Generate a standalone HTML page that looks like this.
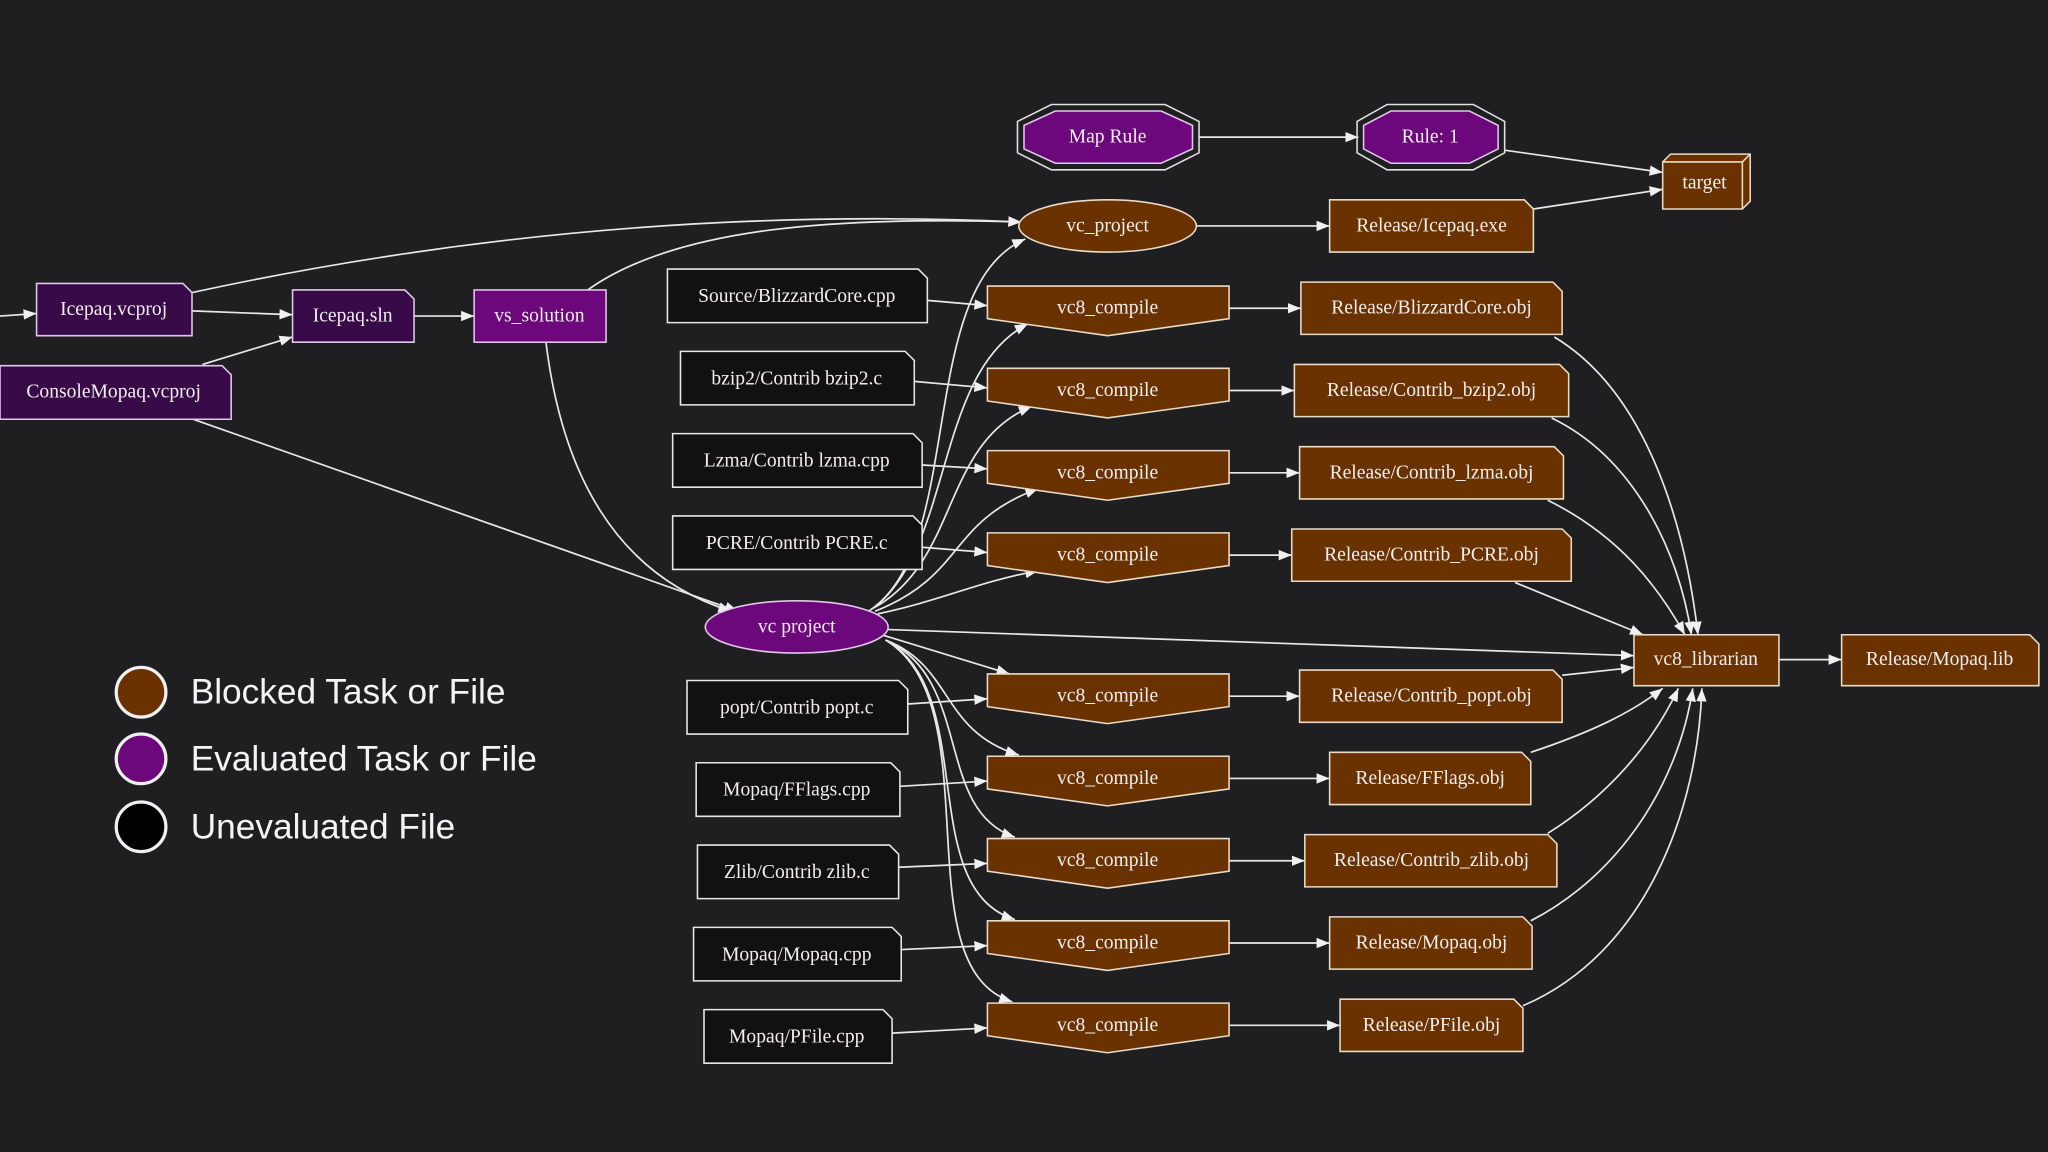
<!DOCTYPE html>
<html><head><meta charset="utf-8"><style>
html,body{margin:0;padding:0;background:#1f1f21;width:2048px;height:1152px;overflow:hidden}
svg{display:block}
.t{font-family:"Liberation Serif",serif;font-size:15px;fill:#f2eef0;text-anchor:middle;dominant-baseline:central}
.e{fill:none;stroke:#e8e8e8;stroke-width:1.3}
.b{fill:#6a3200;stroke:#e8dcc8;stroke-width:1.2}
.p{fill:#6c087c;stroke:#e0c8e8;stroke-width:1.2}
.dp{fill:#380a48;stroke:#e0c8e8;stroke-width:1.2}
.k{fill:#111113;stroke:#e8e8e8;stroke-width:1.2}
.lg{font-family:"Liberation Sans",sans-serif;font-size:27px;fill:#f4f4f4;dominant-baseline:central}
</style></head><body>
<svg width="2048" height="1152" viewBox="0 0 1568 882" xmlns="http://www.w3.org/2000/svg">
<defs><marker id="a" markerWidth="10" markerHeight="8" refX="10" refY="4" orient="auto" markerUnits="userSpaceOnUse"><path d="M0,0 L10,4 L0,8 Z" fill="#f0f0f0"/></marker></defs>
<rect width="1568" height="882" fill="#1f1f21"/>

<!-- edges -->
<g class="e" marker-end="url(#a)">
<path d="M0,242 L28,240"/>
<path d="M147,238 L224,241"/>
<path d="M155,279 L224,258"/>
<path d="M317,242 L363,242"/>
<path d="M147,224 C350,180 560,160 782,170"/>
<path d="M450,222 C520,172 650,166 782,170"/>
<path d="M418,262 C430,360 470,440 560,468"/>
<path d="M148,321 L565,468"/>
<path d="M918,105 L1040,105"/>
<path d="M1152,115 L1273,132"/>
<path d="M916,173 L1018,173"/>
<path d="M1174,160 L1273,145"/>
<path d="M665,468 C740,420 700,220 785,183"/>
<!-- sources to compiles -->
<path d="M710,230 L756,234"/>
<path d="M700,292 L756,297"/>
<path d="M706,356 L756,359"/>
<path d="M706,419 L756,423"/>
<path d="M695,539 L756,535"/>
<path d="M689,602 L756,598"/>
<path d="M688,664 L756,661"/>
<path d="M690,727 L756,724"/>
<path d="M683,791 L756,787"/>
<!-- vc_project to compiles -->
<path d="M668,466 C730,420 715,285 787,248"/>
<path d="M668,466 C735,430 720,340 790,311"/>
<path d="M670,468 C740,440 725,400 795,374"/>
<path d="M672,470 C720,460 750,445 795,437"/>
<path d="M675,486 L773,516"/>
<path d="M678,490 C730,510 720,560 780,578"/>
<path d="M678,490 C745,520 715,620 777,641"/>
<path d="M678,490 C750,530 700,680 777,704"/>
<path d="M678,490 C760,540 690,740 775,767"/>
<!-- compiles to objs -->
<path d="M941,236 L996,236"/>
<path d="M941,299 L991,299"/>
<path d="M941,362 L995,362"/>
<path d="M941,425 L989,425"/>
<path d="M941,533 L995,533"/>
<path d="M941,596 L1018,596"/>
<path d="M941,659 L999,659"/>
<path d="M941,722 L1018,722"/>
<path d="M941,785 L1026,785"/>
<!-- objs to librarian -->
<path d="M1190,258 C1260,300 1290,400 1300,486"/>
<path d="M1188,320 C1250,350 1285,420 1295,486"/>
<path d="M1185,383 C1240,410 1270,450 1290,486"/>
<path d="M1160,446 L1258,486"/>
<path d="M1196,517 L1251,511"/>
<path d="M1172,576 C1220,560 1250,545 1273,527"/>
<path d="M1185,638 C1230,610 1265,570 1285,527"/>
<path d="M1172,705 C1240,670 1285,600 1296,527"/>
<path d="M1166,770 C1260,730 1300,620 1303,527"/>
<path d="M680,482 L1251,502"/>
<path d="M1362,505 L1410,505"/>
</g>

<!-- octagons -->
<polygon points="805,80 892,80 918,93 918,117 892,130 805,130 779,117 779,93" fill="none" stroke="#e0e0e0" stroke-width="1.2"/>
<polygon points="808,85 889,85 913,96 913,114 889,125 808,125 784,114 784,96" class="p"/>
<text x="848" y="105" class="t">Map Rule</text>
<polygon points="1062,80 1128,80 1152,93 1152,117 1128,130 1062,130 1039,117 1039,93" fill="none" stroke="#e0e0e0" stroke-width="1.2"/>
<polygon points="1065,85 1125,85 1147,96 1147,114 1125,125 1065,125 1044,114 1044,96" class="p"/>
<text x="1095" y="105" class="t">Rule: 1</text>

<!-- target -->
<polygon points="1273,124 1279,118 1340,118 1340,154 1334,160 1273,160" class="b"/>
<path d="M1273,124 H1334 V160 M1334,124 L1340,118" fill="none" stroke="#e8dcc8" stroke-width="1.2"/>
<text x="1305" y="140" class="t">target</text>

<!-- vc_project top -->
<ellipse cx="848" cy="173" rx="68" ry="20" class="b"/>
<text x="848" y="173" class="t">vc_project</text>

<!-- note helper shapes -->
<g>
<path d="M1018,153 H1167 L1174,160 V193 H1018 Z" class="b"/><text x="1096" y="173" class="t">Release/Icepaq.exe</text>
<path d="M28,217 H140 L147,224 V257 H28 Z" class="dp"/><text x="87" y="237" class="t">Icepaq.vcproj</text>
<path d="M224,222 H310 L317,229 V262 H224 Z" class="dp"/><text x="270" y="242" class="t">Icepaq.sln</text>
<rect x="363" y="222" width="101" height="40" class="p"/><text x="413" y="242" class="t">vs_solution</text>
<path d="M0,280 H170 L177,287 V321 H0 Z" class="dp"/><text x="87" y="300" class="t">ConsoleMopaq.vcproj</text>

<path d="M511,206 H703 L710,213 V247 H511 Z" class="k"/><text x="610" y="227" class="t">Source/BlizzardCore.cpp</text>
<path d="M521,269 H693 L700,276 V310 H521 Z" class="k"/><text x="610" y="290" class="t">bzip2/Contrib  bzip2.c</text>
<path d="M515,332 H699 L706,339 V373 H515 Z" class="k"/><text x="610" y="353" class="t">Lzma/Contrib  lzma.cpp</text>
<path d="M515,395 H699 L706,402 V436 H515 Z" class="k"/><text x="610" y="416" class="t">PCRE/Contrib  PCRE.c</text>
<path d="M526,521 H688 L695,528 V562 H526 Z" class="k"/><text x="610" y="542" class="t">popt/Contrib  popt.c</text>
<path d="M533,584 H682 L689,591 V625 H533 Z" class="k"/><text x="610" y="605" class="t">Mopaq/FFlags.cpp</text>
<path d="M534,647 H681 L688,654 V688 H534 Z" class="k"/><text x="610" y="668" class="t">Zlib/Contrib  zlib.c</text>
<path d="M531,710 H683 L690,717 V751 H531 Z" class="k"/><text x="610" y="731" class="t">Mopaq/Mopaq.cpp</text>
<path d="M539,773 H676 L683,780 V814 H539 Z" class="k"/><text x="610" y="794" class="t">Mopaq/PFile.cpp</text>
</g>

<!-- compiles -->
<g>
<path d="M756,219 H941 V244 L848,257 L756,244 Z" class="b"/><text x="848" y="236" class="t">vc8_compile</text>
<path d="M756,282 H941 V307 L848,320 L756,307 Z" class="b"/><text x="848" y="299" class="t">vc8_compile</text>
<path d="M756,345 H941 V370 L848,383 L756,370 Z" class="b"/><text x="848" y="362" class="t">vc8_compile</text>
<path d="M756,408 H941 V433 L848,446 L756,433 Z" class="b"/><text x="848" y="425" class="t">vc8_compile</text>
<path d="M756,516 H941 V541 L848,554 L756,541 Z" class="b"/><text x="848" y="533" class="t">vc8_compile</text>
<path d="M756,579 H941 V604 L848,617 L756,604 Z" class="b"/><text x="848" y="596" class="t">vc8_compile</text>
<path d="M756,642 H941 V667 L848,680 L756,667 Z" class="b"/><text x="848" y="659" class="t">vc8_compile</text>
<path d="M756,705 H941 V730 L848,743 L756,730 Z" class="b"/><text x="848" y="722" class="t">vc8_compile</text>
<path d="M756,768 H941 V793 L848,806 L756,793 Z" class="b"/><text x="848" y="785" class="t">vc8_compile</text>
</g>

<!-- objs -->
<g>
<path d="M996,216 H1189 L1196,223 V256 H996 Z" class="b"/><text x="1096" y="236" class="t">Release/BlizzardCore.obj</text>
<path d="M991,279 H1194 L1201,286 V319 H991 Z" class="b"/><text x="1096" y="299" class="t">Release/Contrib_bzip2.obj</text>
<path d="M995,342 H1190 L1197,349 V382 H995 Z" class="b"/><text x="1096" y="362" class="t">Release/Contrib_lzma.obj</text>
<path d="M989,405 H1196 L1203,412 V445 H989 Z" class="b"/><text x="1096" y="425" class="t">Release/Contrib_PCRE.obj</text>
<path d="M995,513 H1189 L1196,520 V553 H995 Z" class="b"/><text x="1096" y="533" class="t">Release/Contrib_popt.obj</text>
<path d="M1018,576 H1165 L1172,583 V616 H1018 Z" class="b"/><text x="1095" y="596" class="t">Release/FFlags.obj</text>
<path d="M999,639 H1185 L1192,646 V679 H999 Z" class="b"/><text x="1096" y="659" class="t">Release/Contrib_zlib.obj</text>
<path d="M1018,702 H1166 L1173,709 V742 H1018 Z" class="b"/><text x="1096" y="722" class="t">Release/Mopaq.obj</text>
<path d="M1026,765 H1159 L1166,772 V805 H1026 Z" class="b"/><text x="1096" y="785" class="t">Release/PFile.obj</text>
</g>

<ellipse cx="610" cy="480" rx="70" ry="20" class="p"/>
<text x="610" y="480" class="t">vc  project</text>

<rect x="1251" y="486" width="111" height="39" class="b"/><text x="1306" y="505" class="t">vc8_librarian</text>
<path d="M1410,486 H1554 L1561,493 V525 H1410 Z" class="b"/><text x="1485" y="505" class="t">Release/Mopaq.lib</text>

<!-- legend -->
<circle cx="108" cy="530" r="19" fill="#6a3200" stroke="#f0f0f0" stroke-width="2.5"/>
<text x="146" y="530" class="lg">Blocked Task or File</text>
<circle cx="108" cy="581" r="19" fill="#6c087c" stroke="#f0f0f0" stroke-width="2.5"/>
<text x="146" y="581" class="lg">Evaluated Task or File</text>
<circle cx="108" cy="633" r="19" fill="#000" stroke="#f0f0f0" stroke-width="2.5"/>
<text x="146" y="633" class="lg">Unevaluated File</text>
</svg>
</body></html>
